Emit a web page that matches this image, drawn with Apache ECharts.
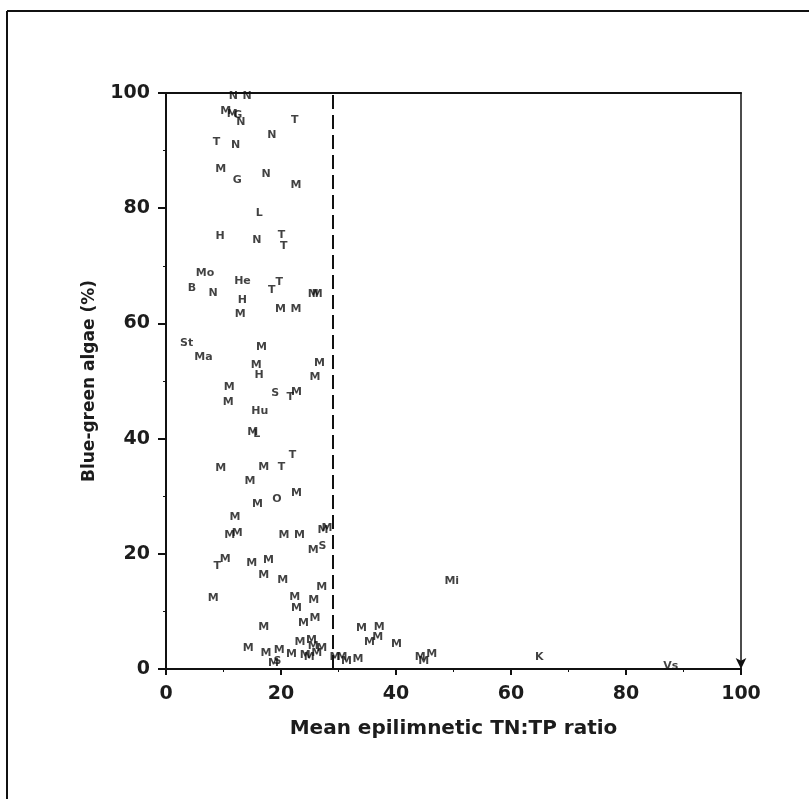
<!DOCTYPE html>
<html>
<head>
<meta charset="utf-8">
<script src="https://cdn.jsdelivr.net/npm/echarts@6/dist/echarts.min.js"></script>
<style>
html,body{margin:0;padding:0;background:#fff;}
#chart{width:809px;height:799px;}
</style>
</head>
<body>
<div id="chart"></div>
<script>
// Lake codes (letters drawn as the plotted marks)
const letters = ['N','N','M','M','G','N','T','N','T','N',
  'M','G','N','M','L','H','N','T','T','Mo',
  'B','N','He','H','M','T','T','M','M','M',
  'M','St','Ma','M','M','M','H','M','M','M',
  'S','T','M','Hu','M','L','T','M','M','T',
  'M','M','O','M','M','M','M','M','M','M',
  'M','M','S','T','M','M','M','M','M','M',
  'M','M','M','M','M','M','M','M','M','M',
  'S','M','M','M','M','M','M','M','M','M',
  'M','M','M','M','M','M','M','M','M','M',
  'M','M','Mi','K','Vs'];
// Mean epilimnetic TN:TP ratio
const tnTp = [11.7,14.1,10.4,11.5,12.5,13.0,22.4,18.4,8.8,12.1,
  9.5,12.4,17.4,22.6,16.2,9.4,15.8,20.1,20.5,6.8,
  4.5,8.2,13.3,13.3,12.9,18.4,19.7,19.9,22.6,25.6,
  26.3,3.6,6.5,16.6,15.7,26.7,16.2,25.9,11.0,10.8,
  19.0,21.6,22.7,16.3,15.1,15.8,22.0,9.5,17.0,20.1,
  14.6,22.7,19.3,15.9,12.0,11.1,12.4,20.5,23.2,27.3,
  28.0,25.6,27.2,8.9,10.3,14.9,17.8,17.0,20.3,27.1,
  8.2,22.4,22.7,25.7,23.9,25.9,17.0,14.3,17.4,18.7,
  19.4,19.7,21.8,23.3,25.3,24.2,24.9,25.6,27.1,26.2,
  29.4,30.6,31.4,33.4,34.0,37.1,35.4,36.8,40.1,44.2,
  44.8,46.2,49.7,64.9,87.8];
// Blue-green algae (%)
const blueGreen = [99.4,99.4,96.9,96.4,96.2,95.0,95.3,92.7,91.5,91.0,
  86.8,84.8,85.9,84.0,79.1,75.1,74.5,75.3,73.4,68.8,
  66.1,65.2,67.4,64.1,61.6,65.7,67.1,62.4,62.4,65.1,
  65.1,56.5,54.2,55.8,52.8,53.1,51.0,50.7,49.0,46.4,
  47.9,47.2,48.1,44.8,41.2,40.8,37.2,34.8,35.1,35.0,
  32.7,30.5,29.5,28.6,26.4,23.3,23.6,23.3,23.3,24.1,
  24.5,20.7,21.4,17.8,19.0,18.3,18.9,16.3,15.5,14.2,
  12.3,12.4,10.5,11.9,7.9,8.8,7.2,3.6,2.7,1.1,
  1.4,3.3,2.6,4.6,5.0,2.4,2.1,3.9,3.6,2.7,
  2.1,2.1,1.3,1.7,7.1,7.3,4.7,5.6,4.3,2.1,
  1.3,2.6,15.3,2.1,0.5];
const thresholdRatio = [29];
const xTicks = [0,20,40,60,80,100];
const yTicks = [0,20,40,60,80,100];

const ink = '#111';
const fontFam = 'DejaVu Sans, Liberation Sans, sans-serif';
const pts = tnTp.map((x,i)=>[x, blueGreen[i], letters[i]]);

const chart = echarts.init(document.getElementById('chart'), null, {renderer:'canvas'});
chart.setOption({
  animation:false,
  backgroundColor:'#fff',
  grid:{left:166, right:68, top:93, bottom:130},
  xAxis:[{
    type:'value', min:xTicks[0], max:xTicks[xTicks.length-1], interval:20,
    name:'Mean epilimnetic TN:TP ratio', nameLocation:'middle', nameGap:50,
    nameTextStyle:{fontFamily:fontFam, fontWeight:'bold', fontSize:20, color:'#1c1c1c'},
    axisLine:{show:true, onZero:false, lineStyle:{color:ink, width:2}},
    axisTick:{show:true, inside:false, length:6, lineStyle:{color:ink, width:2}},
    minorTick:{show:true, splitNumber:2, length:3, lineStyle:{color:ink, width:1}},
    axisLabel:{margin:16, fontFamily:fontFam, fontWeight:'bold', fontSize:19, color:'#1c1c1c'},
    splitLine:{show:false}
  },{
    type:'value', position:'top', min:0, max:100,
    axisLine:{show:true, onZero:false, lineStyle:{color:ink, width:2}},
    axisTick:{show:false}, axisLabel:{show:false}, splitLine:{show:false}
  }],
  yAxis:[{
    type:'value', min:yTicks[0], max:yTicks[yTicks.length-1], interval:20,
    name:'Blue-green algae (%)', nameLocation:'middle', nameGap:68, nameRotate:90,
    nameTextStyle:{fontFamily:fontFam, fontWeight:'bold', fontSize:17, color:'#1c1c1c'},
    axisLine:{show:true, onZero:false, lineStyle:{color:ink, width:2}},
    axisTick:{show:true, inside:false, length:8, lineStyle:{color:ink, width:2}},
    minorTick:{show:true, splitNumber:2, length:3, lineStyle:{color:ink, width:1}},
    axisLabel:{margin:16, fontFamily:fontFam, fontWeight:'bold', fontSize:19, color:'#1c1c1c'},
    splitLine:{show:false}
  },{
    type:'value', position:'right', min:0, max:100,
    axisLine:{show:true, onZero:false, symbol:['arrow','none'], symbolSize:[8,11],
      lineStyle:{color:ink, width:1.5}},
    axisTick:{show:false}, axisLabel:{show:false}, splitLine:{show:false}
  }],
  series:[{
    type:'scatter',
    xAxisIndex:0, yAxisIndex:0,
    data:pts,
    symbolSize:0,
    label:{
      show:true, position:'inside',
      formatter:p=>p.value[2],
      fontFamily:fontFam, fontWeight:'bold', fontSize:11, color:'#111'
    },
    labelLayout:{hideOverlap:false},
    markLine:{
      silent:true, symbol:'none', label:{show:false},
      lineStyle:{type:[14,6], color:ink, width:2},
      data:thresholdRatio.map(v=>({xAxis:v}))
    }
  }],
  graphic:[
    {type:'line', shape:{x1:7, y1:11, x2:809, y2:11}, style:{stroke:ink, lineWidth:2}},
    {type:'line', shape:{x1:7, y1:11, x2:7, y2:799}, style:{stroke:ink, lineWidth:2}}
  ]
});
</script>
</body>
</html>
